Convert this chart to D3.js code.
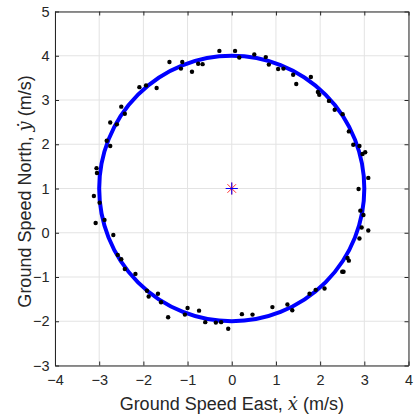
<!DOCTYPE html>
<html><head><meta charset="utf-8">
<script src="https://cdn.jsdelivr.net/npm/d3@7"></script>
<style>html,body{margin:0;padding:0;background:#fff;}svg{display:block;font-family:"Liberation Sans",Arial,sans-serif;}</style>
</head><body>
<script>
const xTicks = [-4,-3,-2,-1,0,1,2,3,4];
const yTicks = [-3,-2,-1,0,1,2,3,4,5];
const measX = [-0.28,0.075,0.17,0.51,0.77,0.84,1.05,1.17,1.39,1.46,1.79,1.95,1.98,2.20,2.33,2.51,2.65,2.75,2.89,2.96,3.02,3.09,2.87,
  -1.41,-1.15,-1.12,-0.90,-0.76,-0.66,-2.09,-1.94,-1.70,-2.50,-2.42,-2.75,-2.60,-2.83,-2.75,-3.06,-3.05,-3.12,
  -2.99,-3.08,-2.88,-2.68,-2.58,-2.50,-2.42,-2.18,-1.92,-1.88,-1.67,-1.60,-1.44,-1.06,-1.00,-0.74,-0.60,-0.36,-0.24,-0.08,
  0.23,0.47,0.92,1.26,1.37,1.76,1.90,2.10,2.50,2.53,2.62,2.65,2.89,3.09,2.94,2.98,2.91];
const measY = [4.11,4.11,3.96,4.03,3.97,3.80,3.70,3.71,3.57,3.36,3.52,3.18,3.12,2.98,2.78,2.68,2.29,1.99,1.96,1.78,1.82,1.24,0.99,
  3.86,3.71,3.86,3.64,3.82,3.81,3.29,3.33,3.27,2.85,2.69,2.49,2.45,2.08,1.96,1.46,1.35,0.83,
  0.68,0.22,0.29,-0.05,-0.50,-0.60,-0.82,-0.93,-1.31,-1.44,-1.38,-1.57,-1.91,-1.85,-1.70,-1.76,-2.02,-2.03,-2.02,-2.17,
  -1.84,-1.85,-1.68,-1.62,-1.75,-1.38,-1.29,-1.26,-0.88,-0.88,-0.57,-0.63,-0.13,0.05,0.12,0.40,0.50];
const fitCenter = [0, 1];
const fitRadius = 3;

const W = 414, H = 416;
const m = {l:55, r:5.5, t:11.5, b:50.5};
const svg = d3.select("body").append("svg").attr("width",W).attr("height",H);
const x = d3.scaleLinear().domain([-4,4]).range([m.l, W-m.r]);
const y = d3.scaleLinear().domain([-3,5]).range([H-m.b, m.t]);
const axisCol = "#262626";

// grid
const g = svg.append("g");
g.selectAll(".gx").data(xTicks).join("line")
  .attr("x1",d=>x(d)).attr("x2",d=>x(d)).attr("y1",y(-3)).attr("y2",y(5))
  .attr("stroke","#e3e3e3").attr("stroke-width",1);
g.selectAll(".gy").data(yTicks).join("line")
  .attr("y1",d=>y(d)).attr("y2",d=>y(d)).attr("x1",x(-4)).attr("x2",x(4))
  .attr("stroke","#e3e3e3").attr("stroke-width",1);

// axes
const xa = svg.append("g").attr("transform",`translate(0,${y(-3)})`)
  .call(d3.axisBottom(x).tickValues(xTicks).tickSize(-4).tickPadding(9).tickSizeOuter(0));
const ya = svg.append("g").attr("transform",`translate(${x(-4)},0)`)
  .call(d3.axisLeft(y).tickValues(yTicks).tickSize(-4).tickPadding(5.5).tickSizeOuter(0));
const xt = svg.append("g").attr("transform",`translate(0,${y(5)})`)
  .call(d3.axisTop(x).tickValues(xTicks).tickSize(-4).tickFormat("").tickSizeOuter(0));
const yr = svg.append("g").attr("transform",`translate(${x(4)},0)`)
  .call(d3.axisRight(y).tickValues(yTicks).tickSize(-4).tickFormat("").tickSizeOuter(0));
[xa,ya,xt,yr].forEach(a=>{
  a.selectAll("path").attr("stroke",axisCol).attr("stroke-width",1);
  a.selectAll("line").attr("stroke",axisCol);
  a.selectAll("text").attr("fill",axisCol).style("font-size","14.5px").style("font-family","'Liberation Sans',Arial,sans-serif");
});

// fitted circle
svg.append("ellipse")
  .attr("cx",x(fitCenter[0])).attr("cy",y(fitCenter[1]))
  .attr("rx",x(fitRadius)-x(0)).attr("ry",y(0)-y(fitRadius))
  .attr("fill","none").attr("stroke","#0000ff").attr("stroke-width",4);

// measurements
svg.selectAll(".pt").data(d3.range(measX.length)).join("circle")
  .attr("cx",i=>x(measX[i])).attr("cy",i=>y(measY[i])).attr("r",2.2).attr("fill","#000");

// center marker: red asterisk + blue plus
const cx0 = x(fitCenter[0]), cy0 = y(fitCenter[1]);
const s = 6, d2 = 4.3;
const mk = svg.append("g");
[[-s,0,s,0],[0,-s,0,s],[-d2,-d2,d2,d2],[-d2,d2,d2,-d2]].forEach(p=>{
  mk.append("line").attr("x1",cx0+p[0]).attr("y1",cy0+p[1]).attr("x2",cx0+p[2]).attr("y2",cy0+p[3])
    .attr("stroke","#ff3030").attr("stroke-width",1);
});
[[-s,0,s,0],[0,-s,0,s]].forEach(p=>{
  mk.append("line").attr("x1",cx0+p[0]).attr("y1",cy0+p[1]).attr("x2",cx0+p[2]).attr("y2",cy0+p[3])
    .attr("stroke","#0000ff").attr("stroke-width",1);
});

// labels
const xl = svg.append("text").attr("x",(x(-4)+x(4))/2).attr("y",410).attr("text-anchor","middle")
  .attr("fill",axisCol).style("font-size","18px");
xl.append("tspan").text("Ground Speed East, ");
xl.append("tspan").style("font-family","'DejaVu Serif',serif").style("font-style","italic").text("\u1E8B");
xl.append("tspan").text(" (m/s)");
const yl = svg.append("text").attr("transform",`translate(31,${(y(-3)+y(5))/2 + 3}) rotate(-90)`).attr("text-anchor","middle")
  .attr("fill",axisCol).style("font-size","18px");
yl.append("tspan").text("Ground Speed North, ");
yl.append("tspan").style("font-family","'DejaVu Serif',serif").style("font-style","italic").text("\u1E8F");
yl.append("tspan").text(" (m/s)");
</script>
</body></html>
